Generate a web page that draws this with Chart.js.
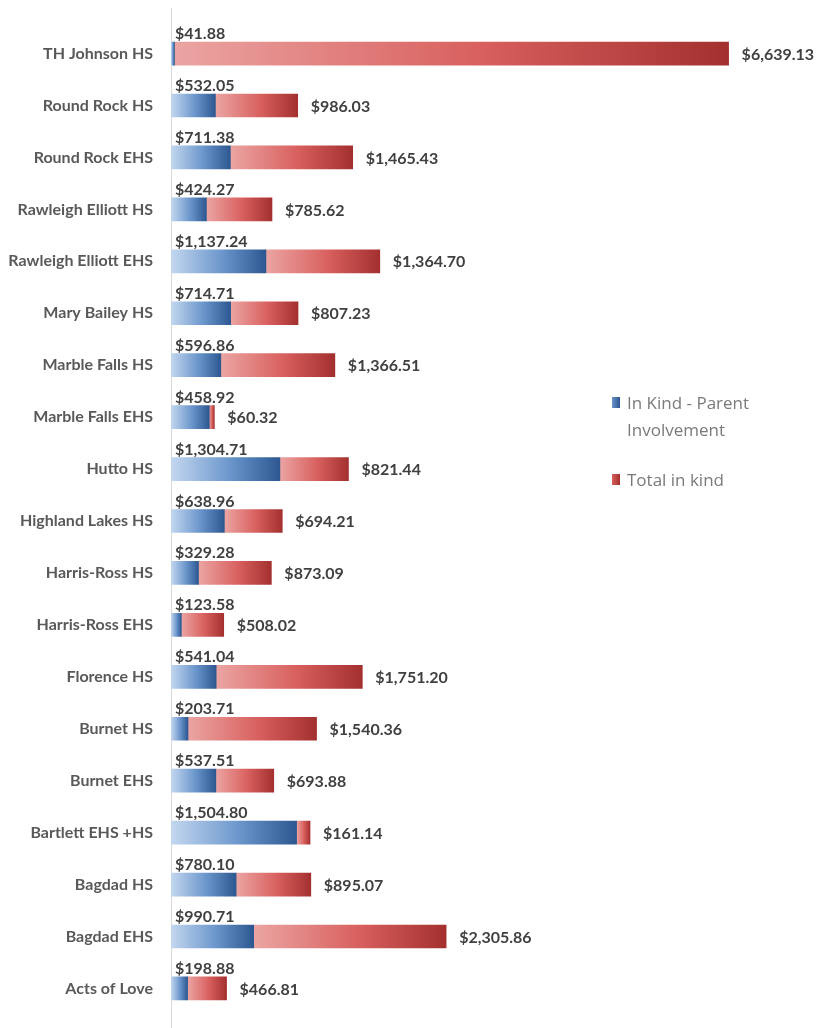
<!DOCTYPE html>
<html>
<head>
<meta charset="utf-8">
<script src="https://cdn.jsdelivr.net/npm/chart.js@4.4.1/dist/chart.umd.min.js"></script>
<style>
  html, body { margin: 0; padding: 0; background: #fff; overflow: hidden; }
  #wrap { position: relative; width: 822px; height: 1042px; }
  #legend { position: absolute; left: 612px; top: 389px; font-family: "Open Sans", sans-serif;
            font-size: 17px; line-height: 27px; color: #7a7a7a; }
  #legend .item { display: flex; align-items: flex-start; margin-bottom: 23px; }
  #legend .box { width: 8px; height: 11px; margin: 8px 7px 0 0; flex: none; }
</style>
</head>
<body>
<div id="wrap">
  <canvas id="kindChart"></canvas>
  <div id="legend"></div>
</div>
<script>
/* ========= DATA ========= */

const categories = [
  "TH Johnson HS", "Round Rock HS", "Round Rock EHS", "Rawleigh Elliott HS",
  "Rawleigh Elliott EHS", "Mary Bailey HS", "Marble Falls HS", "Marble Falls EHS",
  "Hutto HS", "Highland Lakes HS", "Harris-Ross HS", "Harris-Ross EHS",
  "Florence HS", "Burnet HS", "Burnet EHS", "Bartlett EHS +HS",
  "Bagdad HS", "Bagdad EHS", "Acts of Love"
];

const parentInvolvement = [
  41.88, 532.05, 711.38, 424.27, 1137.24, 714.71, 596.86, 458.92, 1304.71, 638.96,
  329.28, 123.58, 541.04, 203.71, 537.51, 1504.80, 780.10, 990.71, 198.88
];

const totalInKind = [
  6639.13, 986.03, 1465.43, 785.62, 1364.70, 807.23, 1366.51, 60.32, 821.44, 694.21,
  873.09, 508.02, 1751.20, 1540.36, 693.88, 161.14, 895.07, 2305.86, 466.81
];

const seriesNames = ["In Kind - Parent\nInvolvement", "Total in kind"];


/* ========= STYLE ========= */

const blueStops = ["#c3d7ef", "#6a95cb", "#2c5790"];
const redStops = ["#eba5a3", "#d8605e", "#a3302f"];

function money(v) {
  return "$" + v.toLocaleString("en-US", { minimumFractionDigits: 2, maximumFractionDigits: 2 });
}

function segmentFill(stops) {
  return function (ctx) {
    const chart = ctx.chart;
    if (!chart.chartArea || ctx.type !== "data") return stops[1];
    const x = chart.scales.x;
    const i = ctx.dataIndex;
    const start = ctx.datasetIndex === 0 ? 0 : parentInvolvement[i];
    const end = start + ctx.raw;
    const g = chart.ctx.createLinearGradient(x.getPixelForValue(start), 0, x.getPixelForValue(end), 0);
    g.addColorStop(0, stops[0]);
    g.addColorStop(0.55, stops[1]);
    g.addColorStop(1, stops[2]);
    return g;
  };
}


/* ========= PLUGINS ========= */

// vertical axis line, starts above the plot like the original
const axisLine = {
  id: "axisLine",
  beforeDatasetsDraw(chart) {
    const c = chart.ctx;
    const x = Math.round(chart.chartArea.left) + 0.5;
    c.save();
    c.strokeStyle = "#d9d9d9";
    c.lineWidth = 1;
    c.beginPath();
    c.moveTo(x, 8);
    c.lineTo(x, chart.height);
    c.stroke();
    c.restore();
  }
};

// value labels: blue above bar start, red after bar end
const valueLabels = {
  id: "valueLabels",
  afterDatasetsDraw(chart) {
    const c = chart.ctx;
    const blueBars = chart.getDatasetMeta(0).data;
    const redBars = chart.getDatasetMeta(1).data;
    c.save();
    c.font = "bold 16px Lato, sans-serif";
    c.fillStyle = "#404040";
    blueBars.forEach((bar, i) => {
      const top = bar.y - bar.height / 2;
      c.textAlign = "left";
      c.textBaseline = "alphabetic";
      c.fillText(money(parentInvolvement[i]), chart.chartArea.left + 4, top - 3);
      const red = redBars[i];
      c.textBaseline = "middle";
      c.fillText(money(totalInKind[i]), red.x + 13, red.y + 1);
    });
    c.restore();
  }
};


/* ========= CHART ========= */

const chart = new Chart(document.getElementById("kindChart"), {
  type: "bar",
  data: {
    labels: categories,
    datasets: [
      { label: seriesNames[0], data: parentInvolvement, backgroundColor: segmentFill(blueStops), barThickness: 23 },
      { label: seriesNames[1], data: totalInKind, backgroundColor: segmentFill(redStops), barThickness: 23 }
    ]
  },
  options: {
    indexAxis: "y",
    responsive: true,
    maintainAspectRatio: false,
    animation: false,
    layout: { padding: { top: 21, left: 0, right: 0, bottom: 0 } },
    plugins: {
      legend: { display: false },
      tooltip: { enabled: false }
    },
    scales: {
      x: { stacked: true, display: false, min: 0, max: 7800 },
      y: {
        stacked: true,
        grid: { display: false, drawTicks: false },
        border: { display: false },
        ticks: { padding: 18, color: "#595959", font: { family: "Lato", size: 16, weight: "bold" } },
        afterFit(scale) { scale.width = 171; }
      }
    }
  },
  plugins: [axisLine, valueLabels]
});


/* ========= LEGEND ========= */

const legendEl = document.getElementById("legend");
[blueStops, redStops].forEach((stops, k) => {
  const item = document.createElement("div");
  item.className = "item";
  const box = document.createElement("span");
  box.className = "box";
  box.style.background = "linear-gradient(90deg," + stops[1] + "," + stops[2] + ")";
  const txt = document.createElement("span");
  txt.innerHTML = seriesNames[k].replace("\n", "<br>");
  item.appendChild(box);
  item.appendChild(txt);
  legendEl.appendChild(item);
});
</script>
</body>
</html>
